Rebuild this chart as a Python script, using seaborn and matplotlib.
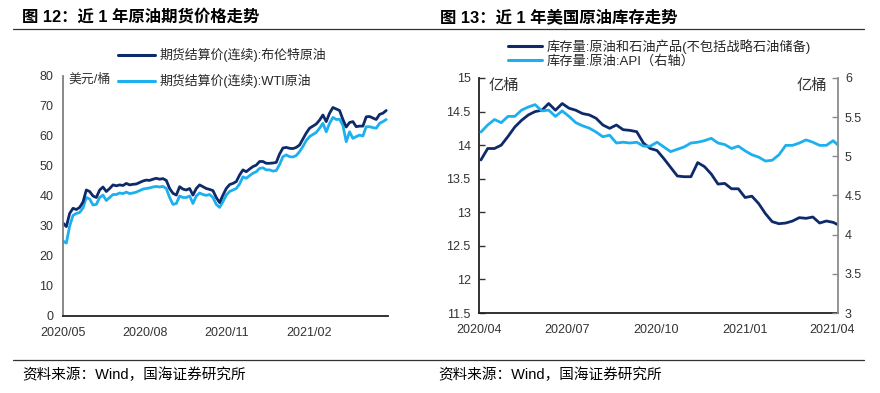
import pandas as pd
import seaborn as sns
import matplotlib.pyplot as plt
import matplotlib.dates as mdates
from matplotlib.lines import Line2D

# 图12 data: futures settlement price, USD/bbl
brent = [31, 29.8, 34.2, 35.9, 35.5, 36.2, 38, 42, 41.5, 40,
         39.5, 42, 43, 41.5, 42.5, 43.7, 43.4, 43.7, 43.5, 44.2,
         43.7, 43.9, 44, 44.5, 45, 45.3, 45.2, 45.6, 45.9, 45.6,
         45.8, 45.2, 42.5, 40.9, 40.3, 43.1, 42.3, 42, 42.5, 40.3,
         42.5, 43.7, 43.1, 42.5, 42.2, 41.8, 39.5, 37.8, 40.3, 42.5,
         43.8, 44.2, 44.8, 47, 48.7, 48.1, 49, 49.8, 50.3, 51.5,
         51.5, 50.9, 50.9, 51, 51.2, 54, 56, 56.2, 55.9, 55.8,
         56.2, 57, 59, 61, 62.6, 63.3, 64, 65.3, 67, 64.8,
         67.6, 69.5, 69, 68.5, 65.5, 63, 64.5, 64.8, 63.1, 63.3,
         63.3, 66.4, 66.5, 66, 65.5, 67.2, 67.6, 68.5]
wti = [25, 24.3, 30, 33.5, 34.2, 34.5, 36, 39.5, 39, 37,
       37.2, 39.5, 40.3, 38.5, 39.5, 40.5, 40.5, 41, 40.8, 41.3,
       40.8, 41, 41.3, 41.8, 42.3, 42.5, 42.7, 43, 43.2, 43,
       43.2, 42.5, 39.5, 37.2, 37.5, 40, 39.5, 39.5, 40, 37.5,
       40, 41, 40.5, 40.2, 40.5, 39.5, 37.2, 36.2, 38.1, 40.3,
       41.5, 42, 42.5, 44, 46.4, 45.9, 46.8, 47.6, 48.1, 49.2,
       49.4, 48.7, 48.7, 48.3, 48.5, 50.5, 53.1, 53.7, 53.1, 53,
       53.5, 54.8, 56.5, 58.5, 59.8, 60.5, 61.2, 62.6, 64.2, 61.4,
       64.2, 66.2, 65.5, 65.6, 63.5, 58.1, 61.4, 59.2, 59.8, 60.3,
       60, 63.1, 63.1, 62.8, 62.6, 64.2, 64.8, 65.5]
price_dates = pd.date_range('2020-05-01', '2021-04-29', periods=len(brent))

# 图13 data: weekly stocks, 亿桶
stocks = [13.78, 13.95, 13.95, 14.0, 14.13, 14.27, 14.37, 14.45, 14.5, 14.52,
          14.62, 14.52, 14.62, 14.55, 14.52, 14.47, 14.45, 14.4, 14.3, 14.25,
          14.3, 14.23, 14.22, 14.2, 14.03, 13.95, 13.92, 13.8, 13.67, 13.54,
          13.53, 13.53, 13.74, 13.68, 13.57, 13.42, 13.43, 13.35, 13.35, 13.22,
          13.24, 13.13, 12.98, 12.86, 12.83, 12.84, 12.87, 12.92, 12.91, 12.93,
          12.84, 12.87, 12.85, 12.8]
api = [5.31, 5.4, 5.47, 5.43, 5.51, 5.51, 5.59, 5.63, 5.66, 5.58,
       5.59, 5.51, 5.58, 5.51, 5.43, 5.39, 5.36, 5.31, 5.25, 5.27,
       5.17, 5.18, 5.17, 5.18, 5.13, 5.13, 5.18, 5.12, 5.06, 5.09,
       5.12, 5.17, 5.18, 5.2, 5.23, 5.17, 5.15, 5.1, 5.13, 5.07,
       5.02, 4.99, 4.94, 4.95, 5.02, 5.14, 5.14, 5.17, 5.21, 5.18,
       5.14, 5.14, 5.2, 5.12]
stock_dates = pd.date_range('2020-04-03', periods=len(stocks), freq='7D')

labels1 = ['期货结算价(连续):布伦特原油', '期货结算价(连续):WTI原油']
labels2 = ['库存量:原油和石油产品(不包括战略石油储备)', '库存量:原油:API（右轴）']
ticks1 = ['2020-05-01', '2020-08-01', '2020-11-01', '2021-02-01', '2021-05-01']
ticks2 = ['2020-04-01', '2020-07-01', '2020-10-01', '2021-01-01', '2021-04-01']

NAVY = '#0E2A6B'
SKY = '#1CB0EE'

sns.set_style('white')
plt.rcParams['font.family'] = ['Liberation Sans', 'Noto Sans CJK SC']
plt.rcParams['axes.unicode_minus'] = False

df1 = pd.DataFrame({'date': price_dates, 'brent': brent, 'wti': wti})
df2 = pd.DataFrame({'date': stock_dates, 'stocks': stocks, 'api': api})

fig = plt.figure(figsize=(8.8, 3.93), dpi=100)
W, H = 880, 393
ax1 = fig.add_axes([63 / W, 1 - 316 / H, 325 / W, 240 / H])
ax2 = fig.add_axes([479 / W, 1 - 313 / H, 359 / W, 235 / H])
ax3 = ax2.twinx()

# left chart
sns.lineplot(data=df1, x='date', y='wti', ax=ax1, color=SKY, lw=2.0)
sns.lineplot(data=df1, x='date', y='brent', ax=ax1, color=NAVY, lw=2.0)
ax1.set_ylim(0, 80)
ax1.set_yticks(range(0, 81, 10))
ax1.set_xlim(pd.Timestamp('2020-05-01'), pd.Timestamp('2021-05-01'))
ax1.set_xticks(pd.to_datetime(ticks1))
ax1.set_xticklabels([pd.Timestamp(t).strftime('%Y/%m') for t in ticks1[:-1]] + [''])

# right chart
sns.lineplot(data=df2, x='date', y='stocks', ax=ax2, color=NAVY, lw=2.0)
sns.lineplot(data=df2, x='date', y='api', ax=ax3, color=SKY, lw=2.0)
ax2.set_ylim(11.5, 15)
ax2.set_yticks([11.5, 12, 12.5, 13, 13.5, 14, 14.5, 15])
ax2.set_yticklabels(['11.5', '12', '12.5', '13', '13.5', '14', '14.5', '15'])
ax3.set_ylim(3, 6)
ax3.set_yticks([3, 3.5, 4, 4.5, 5, 5.5, 6])
ax3.set_yticklabels(['3', '3.5', '4', '4.5', '5', '5.5', '6'])
ax2.set_xlim(pd.Timestamp('2020-04-01'), pd.Timestamp('2021-04-07'))
ax2.set_xticks(pd.to_datetime(ticks2))
ax2.xaxis.set_major_formatter(mdates.DateFormatter('%Y/%m'))

for ax in (ax1, ax2, ax3):
    ax.set_xlabel('')
    ax.set_ylabel('')
    ax.set_facecolor('none')
    ax.spines['top'].set_visible(False)
    ax.tick_params(direction='in', length=4, width=1, labelsize=9,
                   labelcolor='#333333', colors='#333333')
    for s in ax.spines.values():
        s.set_linewidth(1.3)

ax1.spines['right'].set_visible(False)
ax1.spines['left'].set_color('#7f7f7f')
ax1.spines['bottom'].set_color('#222222')
ax1.tick_params(axis='x', pad=8, colors='#222222', labelcolor='#333333')
ax1.tick_params(axis='y', pad=7, colors='#7f7f7f', labelcolor='#333333')

ax2.spines['right'].set_visible(False)
ax2.spines['left'].set_color('#222222')
ax2.spines['bottom'].set_color('#222222')
ax2.tick_params(axis='x', pad=8)
ax2.tick_params(axis='y', pad=6)
ax3.spines['left'].set_visible(False)
ax3.spines['bottom'].set_visible(False)
ax3.spines['right'].set_color('#8c8c8c')
ax3.tick_params(axis='y', pad=5, colors='#8c8c8c', labelcolor='#333333')

# legends
h1 = [Line2D([], [], color=NAVY, lw=2.2), Line2D([], [], color=SKY, lw=2.2)]
fig.legend(h1, labels1, loc='upper left', bbox_to_anchor=(118 / W, 1 - 48 / H),
           frameon=False, fontsize=9.3, handlelength=2.9, handletextpad=0.3,
           labelspacing=0.95, borderpad=0, borderaxespad=0)
fig.legend(h1, labels2, loc='upper left', bbox_to_anchor=(508 / W, 1 - 39 / H),
           frameon=False, fontsize=9.5, handlelength=2.6, handletextpad=0.3,
           labelspacing=0.1, borderpad=0, borderaxespad=0)

# unit labels
fig.text(68 / W, 1 - 80 / H, '美元/桶', fontsize=9.3, va='center', color='#333333')
fig.text(489 / W, 1 - 86 / H, '亿桶', fontsize=11, va='center', color='#333333')
fig.text(827 / W, 1 - 86 / H, '亿桶', fontsize=11, va='center', ha='right', color='#333333')

# titles, rules and sources
fig.text(22 / W, 1 - 17 / H, '图 12：近 1 年原油期货价格走势', fontsize=11.8,
         fontweight='heavy', va='center', color='black')
fig.text(440 / W, 1 - 17 / H, '图 13：近 1 年美国原油库存走势', fontsize=11.8,
         fontweight='heavy', va='center', color='black')
fig.add_artist(Line2D([13 / W, 864 / W], [1 - 29 / H] * 2, color='#333333', lw=0.9))
fig.add_artist(Line2D([13 / W, 864 / W], [1 - 360 / H] * 2, color='#333333', lw=0.9))
fig.text(22 / W, 1 - 375 / H, '资料来源：Wind，国海证券研究所', fontsize=10.5, va='center', color='black')
fig.text(438 / W, 1 - 375 / H, '资料来源：Wind，国海证券研究所', fontsize=10.5, va='center', color='black')

fig.savefig('out.png', dpi=100)
